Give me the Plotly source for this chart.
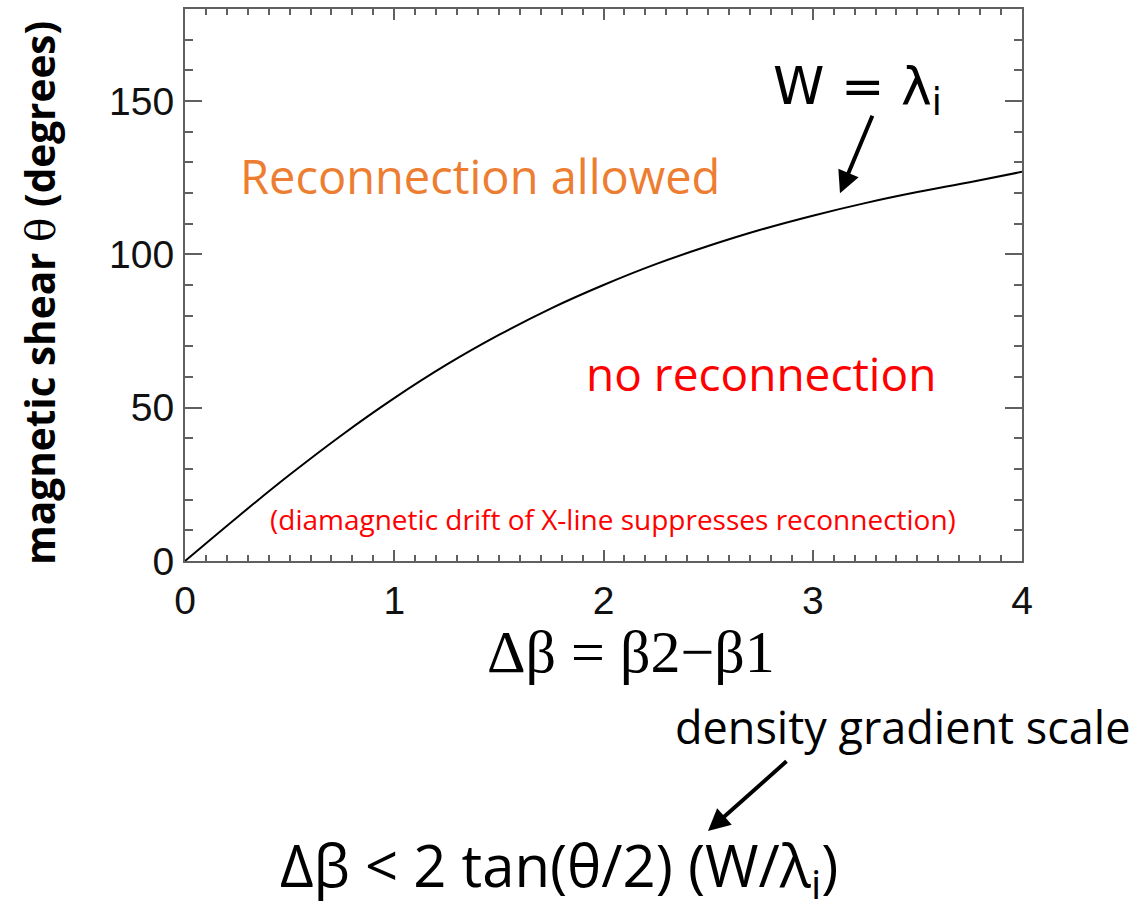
import plotly.graph_objects as go

# data
delta_beta = [0, 0.25, 0.5, 0.75, 1.0, 1.25, 1.5, 1.75, 2.0, 2.25, 2.5, 2.75, 3.0, 3.25, 3.5, 3.75, 4.0]
shear_deg = [0, 14.3, 28.1, 41.1, 53.1, 64.0, 73.7, 82.4, 90.0, 96.8, 102.7, 108.0, 112.6, 116.7, 120.3, 123.5, 126.9]
x_ticks = [0, 1, 2, 3, 4]
y_ticks = [0, 50, 100, 150]

W, H = 1140, 910
L, R, T, B = 185, 1022, 7, 561


def px(x):
    return (x - L) / (R - L)


def py(y):
    return (B - y) / (B - T)


fig = go.Figure()
fig.add_trace(go.Scatter(x=delta_beta, y=shear_deg, mode="lines",
                         line=dict(color="black", width=2, shape="spline", smoothing=1.0),
                         showlegend=False, hoverinfo="skip"))

axis_common = dict(showgrid=False, zeroline=False, showline=True, linecolor="#606060",
                   linewidth=2, mirror="allticks", ticks="inside", tickcolor="#606060",
                   tickwidth=1.5,
                   tickfont=dict(family="Liberation Sans, Arial", size=39, color="#111"))

fig.update_xaxes(range=[0, 4], tickvals=x_ticks, ticklen=11,
                 minor=dict(dtick=0.1, ticks="inside", ticklen=6, tickcolor="#606060", tickwidth=1.5),
                 ticklabelstandoff=4, **axis_common)
fig.update_yaxes(range=[0, 180], tickvals=y_ticks, ticklen=17,
                 minor=dict(dtick=10, ticks="inside", ticklen=8, tickcolor="#606060", tickwidth=1.5),
                 ticklabelstandoff=1, **axis_common)

calibri = "Open Sans, Carlito, Calibri, sans-serif"
ann = []


def text(x, y, s, size, color="black", family=calibri, xanchor="center", **kw):
    ann.append(dict(x=px(x), y=py(y), xref="paper", yref="paper", text=s, showarrow=False,
                    font=dict(family=family, size=size, color=color), xanchor=xanchor,
                    yanchor="middle", **kw))


# y-axis title
text(40, 292, "<b>magnetic shear </b><span style='font-family:DejaVu Serif'>θ</span><b> (degrees)</b>",
     40.5, textangle=-90)
text(480, 175, "Reconnection allowed", 47, color="#ED7D31")
text(761, 372, "no reconnection", 46, color="#FF0000")
text(613, 519, "(diamagnetic drift of X-line suppresses reconnection)", 28, color="#FF0000")
text(857, 88, "W = λ<sub>i</sub>", 52, family="DejaVu Sans, sans-serif")
text(631, 652, "Δβ = β2−β1", 60, family="Liberation Serif, Times New Roman, serif")
text(1132, 727, "density gradient scale", 45, xanchor="right")
text(559, 869, "Δβ < 2 tan(θ/2) (W/λ<sub>i</sub>)", 58)

# arrows
for (hx, hy, tx, ty) in [(840, 192, 873, 113), (708, 832, 788, 761)]:
    ann.append(dict(x=px(hx), y=py(hy), xref="paper", yref="paper", text="",
                    showarrow=True, ax=tx - hx, ay=ty - hy, axref="pixel", ayref="pixel",
                    arrowhead=2, arrowsize=1.1, arrowwidth=4, arrowcolor="black"))

fig.update_layout(width=W, height=H, margin=dict(l=L, r=W - R, t=T, b=H - B),
                  plot_bgcolor="white", paper_bgcolor="white", annotations=ann)

fig.write_html("out.html")
